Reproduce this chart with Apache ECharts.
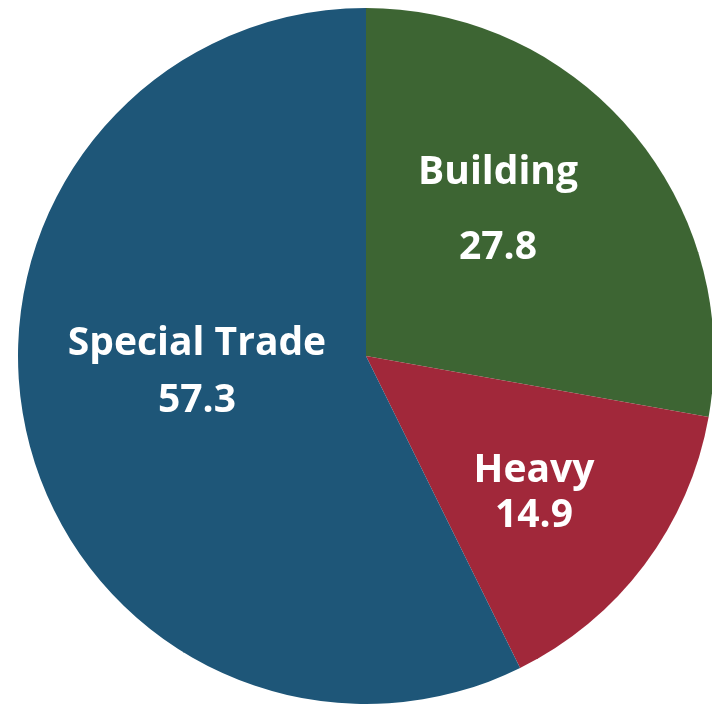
<!DOCTYPE html>
<html><head><meta charset="utf-8">
<script src="https://cdn.jsdelivr.net/npm/echarts@6/dist/echarts.min.js"></script>
<style>html,body{margin:0;padding:0;background:#fff}#c{width:712px;height:706px}</style>
</head><body><div id="c"></div>
<script>
const categories = ["Building", "Heavy", "Special Trade"];
const values = [27.8, 14.9, 57.3];
const colors = ["#3D6533", "#A1283A", "#1E5678"];
// label placement (text only)
const labelPos = [[498, 210, 75], [534, 493, 45], [197, 372, 57]];

const chart = echarts.init(document.getElementById('c'), null, {renderer: 'canvas'});
chart.setOption({
  animation: false,
  series: [{
    type: 'pie',
    center: [366, 356],
    radius: [0, 348],
    startAngle: 90,
    clockwise: true,
    avoidLabelOverlap: false,
    data: categories.map((n, i) => ({
      name: n, value: values[i],
      itemStyle: {color: colors[i]},
      label: {lineHeight: labelPos[i][2]}
    })),
    itemStyle: {borderWidth: 0},
    label: {
      show: true, position: 'inside',
      color: '#fff', fontFamily: 'Open Sans', fontWeight: 'bold', fontSize: 39,
      formatter: p => p.name + '\n' + p.value.toFixed(1)
    },
    labelLayout: p => ({x: labelPos[p.dataIndex][0], y: labelPos[p.dataIndex][1], align: 'center', verticalAlign: 'middle'})
  }]
});
</script></body></html>
